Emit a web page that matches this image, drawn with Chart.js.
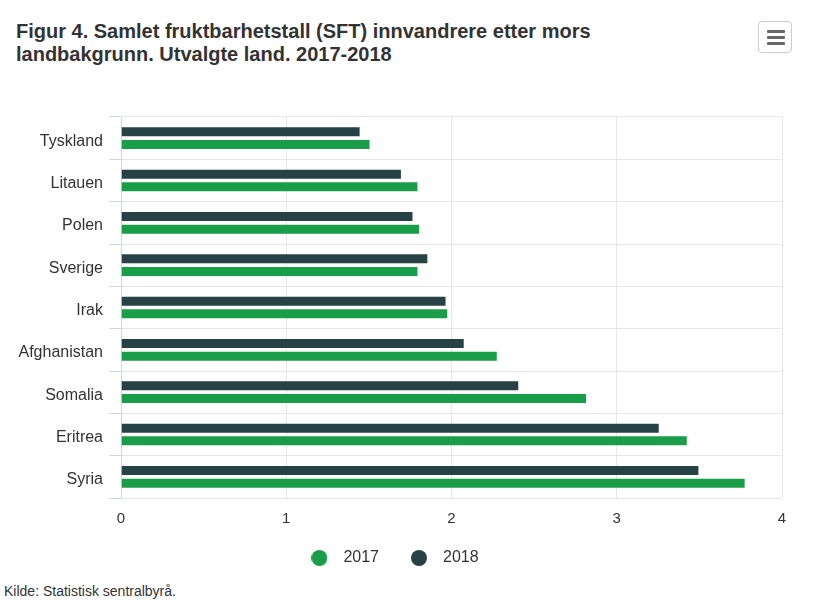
<!DOCTYPE html>
<html>
<head>
<meta charset="utf-8">
<script src="https://cdn.jsdelivr.net/npm/chart.js@4.4.1/dist/chart.umd.min.js"></script>
<style>
  html, body { margin:0; padding:0; background:#fff; }
  body { width:823px; height:607px; position:relative; overflow:hidden; font-family:"Liberation Sans", Arial, sans-serif; }
  #title { position:absolute; left:16px; top:20px; font-size:20px; font-weight:bold; color:#333; line-height:23px; }
  #menu { position:absolute; left:758px; top:21px; width:34px; height:32px; border:1px solid #cccccc; border-radius:4px; box-sizing:border-box; background:#fff; }
  #menu span { position:absolute; left:8px; width:18px; height:3px; background:#666; border-radius:1px; }
  #credit { position:absolute; left:4px; top:583px; font-size:14px; color:#333; }
  canvas { position:absolute; left:0; top:0; }
</style>
</head>
<body>
<div id="title">Figur 4. Samlet fruktbarhetstall (SFT) innvandrere etter mors<br>landbakgrunn. Utvalgte land. 2017-2018</div>
<div id="menu"><span style="top:8px"></span><span style="top:14px"></span><span style="top:20px"></span></div>
<div id="credit">Kilde: Statistisk sentralbyrå.</div>
<canvas id="c" width="823" height="607"></canvas>
<script>
const categories = ["Tyskland","Litauen","Polen","Sverige","Irak","Afghanistan","Somalia","Eritrea","Syria"];
const values2017 = [1.51, 1.80, 1.81, 1.80, 1.98, 2.28, 2.82, 3.43, 3.78];
const values2018 = [1.45, 1.70, 1.77, 1.86, 1.97, 2.08, 2.41, 3.26, 3.50];
const xTicks = [0, 1, 2, 3, 4];
const seriesColors = ['#274247', '#1a9d49'];

const FONT = "'Liberation Sans', Arial, sans-serif";
Chart.defaults.font.family = FONT;
Chart.defaults.color = '#333333';

function makeMarker(color) {
  const cv = document.createElement('canvas');
  cv.width = 16; cv.height = 16;
  const g = cv.getContext('2d');
  g.fillStyle = color;
  g.beginPath(); g.arc(8, 8, 8, 0, Math.PI * 2); g.fill();
  return cv;
}
const markers = seriesColors.map(makeMarker);

new Chart(document.getElementById('c'), {
  type: 'bar',
  data: {
    labels: categories,
    datasets: [
      { label: '2018', data: values2018, backgroundColor: seriesColors[0], borderColor: 'rgba(255,255,255,0.2)', borderWidth: 1, categoryPercentage: 0.6, barPercentage: 0.87 },
      { label: '2017', data: values2017, backgroundColor: seriesColors[1], borderColor: 'rgba(255,255,255,0.2)', borderWidth: 1, categoryPercentage: 0.6, barPercentage: 0.87 }
    ]
  },
  options: {
    indexAxis: 'y',
    responsive: false,
    animation: false,
    layout: { padding: { top: 117, left: 0, right: 41, bottom: 31 } },
    scales: {
      x: {
        min: 0, max: 4,
        afterBuildTicks: (s) => { s.ticks = xTicks.map(v => ({ value: v })); },
        grid: { color: '#e6e6e6', drawTicks: false },
        border: { display: false },
        ticks: { padding: 12, font: { size: 15 }, color: '#333333' },
        afterFit: (s) => { s.height = 28; }
      },
      y: {
        grid: { color: '#e6e6e6', offset: true, tickLength: 12, tickColor: '#ccd6eb' },
        border: { display: true, color: '#ccd6eb', width: 1 },
        ticks: { padding: 6, labelOffset: 3, font: { size: 16 }, color: '#333333' },
        afterFit: (s) => { s.width = 121; }
      }
    },
    plugins: {
      legend: {
        position: 'bottom',
        reverse: true,
        labels: {
          usePointStyle: true,
          pointStyleWidth: 32,
          boxHeight: 11.3,
          padding: 24,
          font: { size: 16 },
          color: '#333333',
          generateLabels: (chart) => {
            const items = Chart.defaults.plugins.legend.labels.generateLabels(chart);
            items.forEach(it => { it.pointStyle = markers[it.datasetIndex]; });
            return items;
          }
        }
      },
      tooltip: { enabled: false },
      title: { display: false }
    }
  }
});
</script>
</body>
</html>
